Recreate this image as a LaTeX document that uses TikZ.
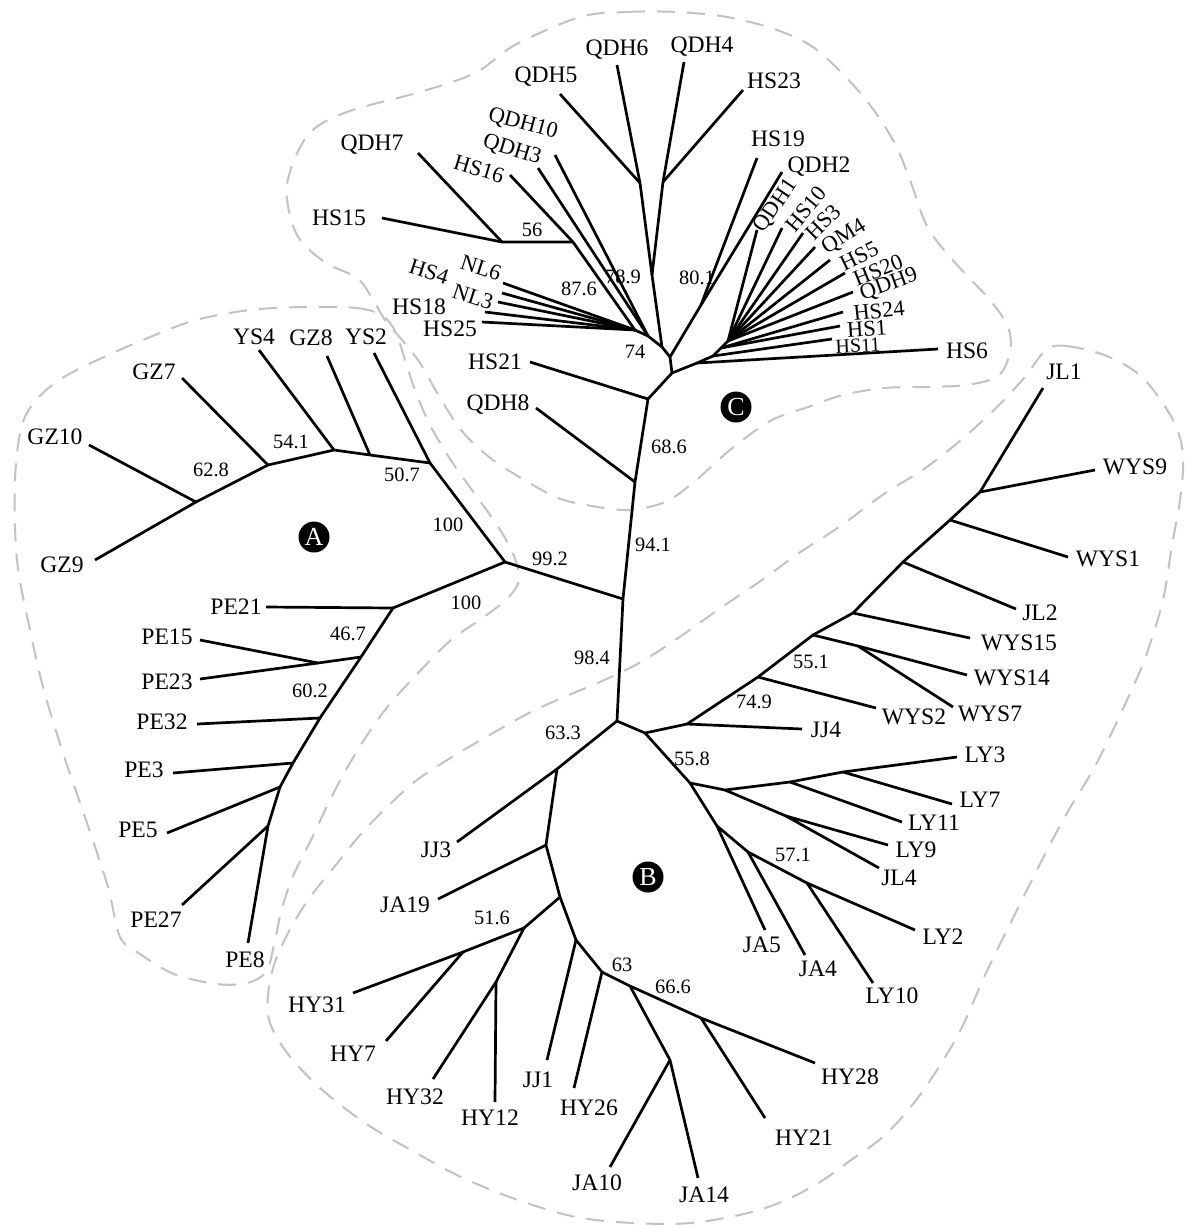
\documentclass[tikz,border=0pt]{standalone}
\usepackage{fontspec}
\setmainfont{Liberation Serif}
\begin{document}
\begin{tikzpicture}[x=0.5pt,y=-0.5pt,
  br/.style={line width=1.35pt,line join=round},
  lab/.style={inner sep=0pt,font=\fontsize{11.8}{13}\selectfont},
  fanlab/.style={inner sep=0pt,font=\fontsize{11.2}{12}\selectfont},
  smalllab/.style={inner sep=0pt,font=\fontsize{10}{11}\selectfont},
  bsv/.style={inner sep=0pt,font=\fontsize{10.2}{11}\selectfont},
  grp/.style={draw=black!24,line width=1pt,dash pattern=on 9pt off 6pt},
  tag/.style={circle,fill=black,text=white,inner sep=0pt,minimum size=15.5pt,font=\fontsize{13}{13}\selectfont}]
\useasboundingbox (0,0) rectangle (1194,1228);
\fill[white] (0,0) rectangle (1194,1228);

% ---------- group outlines ----------
\draw[grp] plot[smooth cycle,tension=0.55] coordinates {
 (580,17) (627,12) (677,12) (727,17) (777,30) (817,50) (862,95) (893,140) (910,180) (928,228)
 (958,266) (990,300) (1008,327) (1010,352) (998,376) (966,385) (924,387) (884,388) (843,395)
 (808,407) (770,421) (730,450) (694,482) (665,502) (629,510) (592,506) (558,498) (521,478)
 (489,457) (461,430) (439,396) (420,363) (402,340) (385,320) (372,298) (357,278) (323,261)
 (296,233) (287,185) (308,135) (347,112) (420,92) (475,73) (515,45)};
\draw[grp] plot[smooth cycle,tension=0.55] coordinates {
 (304,307) (357,308) (383,316) (396,333) (405,360) (415,390) (430,425) (452,462) (477,497)
 (499,528) (514,556) (519,580) (508,598) (484,617) (451,640) (419,672) (389,705) (366,737)
 (347,768) (329,802) (311,840) (294,874) (282,908) (274,945) (266,972) (247,983) (217,984)
 (174,974) (140,954) (120,937) (108,887) (86,820) (63,753) (43,687) (30,630) (17,560)
 (15,480) (22,425) (38,398) (64,377) (104,357) (150,337) (196,320) (250,310)};
\draw[grp] plot[smooth cycle,tension=0.55] coordinates {
 (1046,350) (1066,346) (1107,356) (1143,378) (1173,420) (1183,455) (1180,500) (1172,545)
 (1163,600) (1147,653) (1133,687) (1113,730) (1093,770) (1067,813) (1042,860) (1012,920)
 (985,975) (958,1035) (920,1095) (885,1135) (851,1160) (820,1182) (786,1200) (748,1213)
 (691,1223) (633,1223) (576,1217) (518,1200) (461,1177) (411,1150) (365,1123) (319,1087)
 (285,1050) (268,1015) (272,972) (287,935) (308,900) (335,866) (360,835) (387,807) (417,780)
 (452,757) (493,733) (529,713) (564,697) (600,682) (641,662) (681,636) (722,607) (762,580)
 (799,553) (839,527) (884,494) (924,469) (961,440) (997,407) (1024,378)};

% ---------- internal nodes ----------
\coordinate (tB) at (617,721);  \coordinate (t99) at (623,599);
\coordinate (t68) at (635,482); \coordinate (cb) at (648,399);
\coordinate (c1) at (672,373);  \coordinate (c2) at (670,357);
\coordinate (c3) at (662,347);  \coordinate (c4) at (648,336);
\coordinate (c5) at (635,330);
\coordinate (f1) at (697,363);  \coordinate (f2) at (713,356);
\coordinate (f3) at (721,348);  \coordinate (f4) at (728,341);
\coordinate (q56) at (640,183); \coordinate (q4) at (663,182);
\coordinate (qj) at (652,275);  \coordinate (j80) at (701,305);
\coordinate (n56a) at (502,242); \coordinate (n56b) at (573,242);
\coordinate (a0) at (505,562);  \coordinate (g5) at (430,463);
\coordinate (g4) at (370,455);  \coordinate (g3) at (334,450);
\coordinate (g2) at (268,465);  \coordinate (g1) at (196,502);
\coordinate (p1) at (393,608);  \coordinate (p2) at (361,657);
\coordinate (pp) at (318,663);  \coordinate (p3) at (320,718);
\coordinate (p4) at (293,763);  \coordinate (p5) at (280,787);
\coordinate (p6) at (268,826);
\coordinate (bR) at (645,733);  \coordinate (w0) at (687,724);
\coordinate (w1) at (758,677);  \coordinate (w2) at (813,635);
\coordinate (ww) at (858,646);  \coordinate (w3) at (853,613);
\coordinate (w4) at (903,562);  \coordinate (w5) at (950,520);
\coordinate (w6) at (980,492);
\coordinate (L0) at (690,783);  \coordinate (ly0) at (725,790);
\coordinate (ly1) at (790,782); \coordinate (ly2) at (843,772);
\coordinate (ly3) at (786,816); \coordinate (J1) at (717,826);
\coordinate (J2) at (748,852);  \coordinate (J3) at (807,883);
\coordinate (jj3) at (557,769); \coordinate (ja19) at (546,845);
\coordinate (hy0) at (560,897); \coordinate (hy1) at (524,928);
\coordinate (hy2) at (463,952); \coordinate (hy3) at (496,982);
\coordinate (bb1) at (576,940); \coordinate (bb2) at (602,972);
\coordinate (bb3) at (630,986); \coordinate (bb4) at (670,1060);
\coordinate (bb5) at (701,1018);

% ---------- leaf ends ----------
\coordinate (eHS21) at (530,362); \coordinate (eQDH8) at (536,408);
\coordinate (eHS25) at (482,322); \coordinate (eHS18) at (485,312);
\coordinate (eNL3) at (498,302);  \coordinate (eHS4) at (502,293);
\coordinate (eNL6) at (503,283);  \coordinate (eHS15) at (382,218);
\coordinate (eQDH7) at (418,153); \coordinate (eHS16) at (510,175);
\coordinate (eQDH3) at (538,168); \coordinate (eQDH10) at (555,155);
\coordinate (eQDH5) at (560,94);  \coordinate (eQDH6) at (617,65);
\coordinate (eQDH4) at (684,62);  \coordinate (eHS23) at (743,90);
\coordinate (eHS19) at (757,158); \coordinate (eQDH2) at (782,172);
\coordinate (eQDH1) at (757,230); \coordinate (eHS10) at (782,228);
\coordinate (eHS3) at (803,233);  \coordinate (eQM4) at (815,247);
\coordinate (eHS5) at (830,260);  \coordinate (eHS20) at (845,273);
\coordinate (eQDH9) at (853,292); \coordinate (eHS24) at (843,312);
\coordinate (eHS1) at (840,326);  \coordinate (eHS11) at (832,339);
\coordinate (eHS6) at (938,349);
\coordinate (eYS2) at (374,353);  \coordinate (eGZ8) at (327,356);
\coordinate (eYS4) at (259,350);  \coordinate (eGZ7) at (182,378);
\coordinate (eGZ10) at (89,445);  \coordinate (eGZ9) at (95,560);
\coordinate (ePE21) at (266,607); \coordinate (ePE15) at (200,640);
\coordinate (ePE23) at (200,679); \coordinate (ePE32) at (197,724);
\coordinate (ePE3) at (173,773);  \coordinate (ePE5) at (167,833);
\coordinate (ePE27) at (182,905); \coordinate (ePE8) at (248,943);
\coordinate (eJJ4) at (802,729);  \coordinate (eWYS2) at (876,708);
\coordinate (eWYS14) at (967,675); \coordinate (eWYS7) at (953,707);
\coordinate (eWYS15) at (970,638); \coordinate (eJL2) at (1016,609);
\coordinate (eWYS1) at (1068,557); \coordinate (eWYS9) at (1095,470);
\coordinate (eJL1) at (1043,388);
\coordinate (eLY3) at (957,757);  \coordinate (eLY7) at (952,804);
\coordinate (eLY11) at (902,822); \coordinate (eLY9) at (888,845);
\coordinate (eJL4) at (879,868);  \coordinate (eJA5) at (765,930);
\coordinate (eJA4) at (805,955);  \coordinate (eLY2) at (915,930);
\coordinate (eLY10) at (873,983);
\coordinate (eJJ3) at (457,842);  \coordinate (eJA19) at (438,899);
\coordinate (eHY31) at (353,993); \coordinate (eHY7) at (386,1041);
\coordinate (eHY32) at (433,1079); \coordinate (eHY12) at (495,1102);
\coordinate (eJJ1) at (547,1060); \coordinate (eHY26) at (574,1088);
\coordinate (eJA10) at (610,1167); \coordinate (eJA14) at (698,1178);
\coordinate (eHY21) at (765,1118); \coordinate (eHY28) at (815,1063);

% ---------- branches ----------
% backbone and clade C
\draw[br] (tB) -- (t99) -- (t68) -- (cb) -- (c1) -- (c2) -- (c3) -- (c4) -- (c5);
\draw[br] (c1) -- (f1) -- (f2) -- (f3) -- (f4);
\draw[br] (c2) -- (j80) -- (eQDH2);  \draw[br] (j80) -- (eHS19);
\draw[br] (c3) -- (qj) -- (q56) -- (eQDH6);  \draw[br] (q56) -- (eQDH5);
\draw[br] (qj) -- (q4) -- (eQDH4);  \draw[br] (q4) -- (eHS23);
\draw[br] (c4) -- (eQDH10);  \draw[br] (c4) -- (eQDH3);
\draw[br] (c5) -- (n56b) -- (eHS16);  \draw[br] (n56b) -- (n56a) -- (eHS15);
\draw[br] (n56a) -- (eQDH7);
\foreach \e in {eNL6,eHS4,eNL3,eHS18,eHS25} \draw[br] (c5) -- (\e);
\draw[br] (cb) -- (eHS21);  \draw[br] (t68) -- (eQDH8);
\draw[br] (f1) -- (eHS6);  \draw[br] (f2) -- (eHS11);
\draw[br] (f3) -- (eHS1);  \draw[br] (f3) -- (eHS24);
\foreach \e in {eQDH9,eHS20,eHS5,eQM4,eHS3,eHS10,eQDH1} \draw[br] (f4) -- (\e);
% clade A
\draw[br] (t99) -- (a0) -- (g5) -- (g4) -- (g3) -- (g2) -- (g1) -- (eGZ9);
\draw[br] (g5) -- (eYS2);  \draw[br] (g4) -- (eGZ8);  \draw[br] (g3) -- (eYS4);
\draw[br] (g2) -- (eGZ7);  \draw[br] (g1) -- (eGZ10);
\draw[br] (a0) -- (p1) -- (p2) -- (p3) -- (p4) -- (p5) -- (p6) -- (ePE8);
\draw[br] (p1) -- (ePE21);  \draw[br] (p2) -- (pp) -- (ePE15);  \draw[br] (pp) -- (ePE23);
\draw[br] (p3) -- (ePE32);  \draw[br] (p4) -- (ePE3);  \draw[br] (p5) -- (ePE5);
\draw[br] (p6) -- (ePE27);
% clade B
\draw[br] (tB) -- (bR) -- (w0) -- (w1) -- (w2) -- (w3) -- (w4) -- (w5) -- (w6) -- (eJL1);
\draw[br] (w0) -- (eJJ4);  \draw[br] (w1) -- (eWYS2);
\draw[br] (w2) -- (ww) -- (eWYS14);  \draw[br] (ww) -- (eWYS7);
\draw[br] (w3) -- (eWYS15);  \draw[br] (w4) -- (eJL2);
\draw[br] (w5) -- (eWYS1);  \draw[br] (w6) -- (eWYS9);
\draw[br] (bR) -- (L0) -- (ly0) -- (ly1) -- (ly2) -- (eLY3);
\draw[br] (ly1) -- (eLY11);  \draw[br] (ly2) -- (eLY7);
\draw[br] (ly0) -- (ly3) -- (eLY9);  \draw[br] (ly3) -- (eJL4);
\draw[br] (L0) -- (J1) -- (eJA5);  \draw[br] (J1) -- (J2) -- (eJA4);
\draw[br] (J2) -- (J3) -- (eLY2);  \draw[br] (J3) -- (eLY10);
\draw[br] (tB) -- (jj3) -- (ja19) -- (hy0) -- (bb1) -- (bb2) -- (bb3) -- (bb5) -- (eHY28);
\draw[br] (jj3) -- (eJJ3);  \draw[br] (ja19) -- (eJA19);
\draw[br] (hy0) -- (hy1) -- (hy2) -- (eHY31);  \draw[br] (hy2) -- (eHY7);
\draw[br] (hy1) -- (hy3) -- (eHY32);  \draw[br] (hy3) -- (eHY12);
\draw[br] (bb1) -- (eJJ1);  \draw[br] (bb2) -- (eHY26);
\draw[br] (bb3) -- (bb4) -- (eJA14);  \draw[br] (bb4) -- (eJA10);
\draw[br] (bb5) -- (eHY21);

% ---------- leaf labels ----------
\node[lab] (lHS21) at (495,362) {HS21};
\node[lab] (lQDH8) at (498,405) {QDH8};
\node[lab] (lHS25) at (450,329) {HS25};
\node[lab] (lHS18) at (419,307) {HS18};
\node[fanlab,rotate=-18] (lNL3) at (473,297) {NL3};
\node[fanlab,rotate=-18] (lHS4) at (429,272) {HS4};
\node[fanlab,rotate=-18] (lNL6) at (481,268) {NL6};
\node[lab] (lHS15) at (339,218) {HS15};
\node[lab] (lQDH7) at (372,145) {QDH7};
\node[fanlab,rotate=-17] (lHS16) at (479,169) {HS16};
\node[fanlab,rotate=-17] (lQDH3) at (512,150) {QDH3};
\node[fanlab,rotate=-15] (lQDH10) at (523,124) {QDH10};
\node[lab] (lQDH5) at (546,77) {QDH5};
\node[lab] (lQDH6) at (617,50) {QDH6};
\node[lab] (lQDH4) at (702,47) {QDH4};
\node[lab] (lHS23) at (774,81) {HS23};
\node[lab] (lHS19) at (778,139) {HS19};
\node[lab] (lQDH2) at (819,167) {QDH2};
\node[fanlab,rotate=56] (lQDH1) at (776,206) {QDH1};
\node[fanlab,rotate=50] (lHS10) at (806,209) {HS10};
\node[fanlab,rotate=45] (lHS3) at (823,222) {HS3};
\node[fanlab,rotate=32] (lQM4) at (844,237) {QM4};
\node[fanlab,rotate=26] (lHS5) at (859,256) {HS5};
\node[fanlab,rotate=22] (lHS20) at (878,270) {HS20};
\node[fanlab,rotate=20] (lQDH9) at (889,285) {QDH9};
\node[fanlab,rotate=6] (lHS24) at (879,311) {HS24};
\node[fanlab,rotate=4] (lHS1) at (867,329) {HS1};
\node[smalllab,rotate=3] (lHS11) at (858,346) {HS11};
\node[lab] (lHS6) at (967,351) {HS6};
\node[lab] (lYS2) at (366,337) {YS2};
\node[lab] (lGZ8) at (311,338) {GZ8};
\node[lab] (lYS4) at (254,337) {YS4};
\node[lab] (lGZ7) at (154,372) {GZ7};
\node[lab] (lGZ10) at (55,437) {GZ10};
\node[lab] (lGZ9) at (62,565) {GZ9};
\node[lab] (lPE21) at (236,607) {PE21};
\node[lab] (lPE15) at (167,637) {PE15};
\node[lab] (lPE23) at (167,682) {PE23};
\node[lab] (lPE32) at (162,722) {PE32};
\node[lab] (lPE3) at (144,770) {PE3};
\node[lab] (lPE5) at (138,830) {PE5};
\node[lab] (lPE27) at (156,920) {PE27};
\node[lab] (lPE8) at (245,960) {PE8};
\node[lab] (lJJ4) at (826,730) {JJ4};
\node[lab] (lWYS2) at (914,717) {WYS2};
\node[lab] (lWYS7) at (990,714) {WYS7};
\node[lab] (lWYS14) at (1012,678) {WYS14};
\node[lab] (lWYS15) at (1019,643) {WYS15};
\node[lab] (lJL2) at (1040,613) {JL2};
\node[lab] (lWYS1) at (1108,559) {WYS1};
\node[lab] (lWYS9) at (1135,467) {WYS9};
\node[lab] (lJL1) at (1064,372) {JL1};
\node[lab] (lLY3) at (985,755) {LY3};
\node[lab] (lLY7) at (980,800) {LY7};
\node[lab] (lLY11) at (934,823) {LY11};
\node[lab] (lLY9) at (916,850) {LY9};
\node[lab] (lJL4) at (899,878) {JL4};
\node[lab] (lJA5) at (762,945) {JA5};
\node[lab] (lJA4) at (818,969) {JA4};
\node[lab] (lLY2) at (943,937) {LY2};
\node[lab] (lLY10) at (892,996) {LY10};
\node[lab] (lJJ3) at (436,850) {JJ3};
\node[lab] (lJA19) at (405,905) {JA19};
\node[lab] (lHY31) at (317,1005) {HY31};
\node[lab] (lHY7) at (353,1054) {HY7};
\node[lab] (lHY32) at (415,1097) {HY32};
\node[lab] (lHY12) at (490,1118) {HY12};
\node[lab] (lJJ1) at (538,1080) {JJ1};
\node[lab] (lHY26) at (589,1108) {HY26};
\node[lab] (lJA10) at (597,1183) {JA10};
\node[lab] (lJA14) at (704,1195) {JA14};
\node[lab] (lHY21) at (804,1138) {HY21};
\node[lab] (lHY28) at (850,1077) {HY28};

% ---------- support values ----------
\node[bsv] (s628) at (211,470) {62.8};
\node[bsv] (s541) at (291,442) {54.1};
\node[bsv] (s507) at (402,475) {50.7};
\node[bsv] (s100a) at (448,525) {100};
\node[bsv] (s100b) at (466,603) {100};
\node[bsv] (s992) at (550,559) {99.2};
\node[bsv] (s467) at (348,634) {46.7};
\node[bsv] (s602) at (310,691) {60.2};
\node[bsv] (s941) at (653,545) {94.1};
\node[bsv] (s686) at (669,447) {68.6};
\node[bsv] (s984) at (592,658) {98.4};
\node[bsv] (s633) at (563,733) {63.3};
\node[bsv] (s558) at (692,759) {55.8};
\node[bsv] (s749) at (754,702) {74.9};
\node[bsv] (s551) at (811,662) {55.1};
\node[bsv] (s571) at (793,855) {57.1};
\node[bsv] (s516) at (492,918) {51.6};
\node[bsv] (s63) at (622,965) {63};
\node[bsv] (s666) at (673,987) {66.6};
\node[bsv] (s56) at (532,230) {56};
\node[bsv] (s876) at (579,289) {87.6};
\node[bsv] (s789) at (623,277) {78.9};
\node[bsv] (s74) at (635,352) {74};
\node[bsv] (s801) at (697,278) {80.1};

% ---------- group tags ----------
\node[tag] (tagA) at (314,537) {A};
\node[tag] (tagB) at (648,877) {B};
\node[tag] (tagC) at (736,407) {C};
\end{tikzpicture}
\end{document}
